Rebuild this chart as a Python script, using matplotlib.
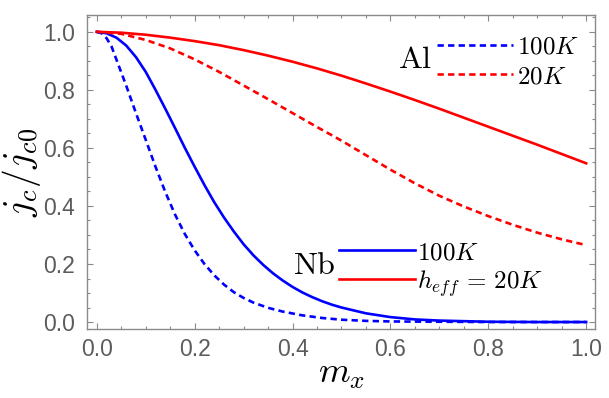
import matplotlib
matplotlib.use("Agg")
import matplotlib.pyplot as plt
from matplotlib.ticker import MultipleLocator
from matplotlib.lines import Line2D

plt.rcParams['mathtext.fontset'] = 'cm'

# Nb, 100K (solid blue)
m_nb100 = [0, 0.02, 0.04, 0.06, 0.08, 0.10, 0.12, 0.14, 0.16, 0.18, 0.20, 0.22, 0.24, 0.26, 0.28,
           0.30, 0.32, 0.34, 0.36, 0.38, 0.40, 0.42, 0.44, 0.46, 0.48, 0.50, 0.55, 0.60, 0.65, 0.70,
           0.80, 0.90, 1.00]
v_nb100 = [1.0, 0.995, 0.98, 0.953, 0.913, 0.862, 0.80, 0.735, 0.668, 0.60, 0.535, 0.472, 0.413, 0.36, 0.312,
           0.268, 0.23, 0.197, 0.168, 0.143, 0.121, 0.102, 0.086, 0.072, 0.06, 0.05, 0.03, 0.017, 0.009, 0.005,
           0.001, 0.0, 0.0]

# Nb, h_eff = 20K (solid red)
m_nb20 = [0, 0.05, 0.10, 0.15, 0.20, 0.25, 0.30, 0.35, 0.40, 0.45, 0.50, 0.55, 0.60, 0.65, 0.70,
          0.75, 0.80, 0.85, 0.90, 0.95, 1.00]
v_nb20 = [1.0, 0.997, 0.99, 0.98, 0.968, 0.954, 0.937, 0.918, 0.897, 0.874, 0.849, 0.822, 0.794, 0.765, 0.735,
          0.704, 0.673, 0.642, 0.611, 0.579, 0.547]

# Al, 100K (dashed blue)
m_al100 = [0, 0.01, 0.02, 0.03, 0.04, 0.06, 0.08, 0.10, 0.12, 0.14, 0.16, 0.18, 0.20, 0.22, 0.24,
           0.26, 0.28, 0.30, 0.32, 0.35, 0.38, 0.42, 0.46, 0.50, 0.55, 0.60, 0.70, 0.80, 1.00]
v_al100 = [1.0, 0.995, 0.978, 0.95, 0.905, 0.815, 0.72, 0.628, 0.535, 0.448, 0.37, 0.303, 0.247, 0.20, 0.161,
           0.129, 0.103, 0.083, 0.067, 0.049, 0.036, 0.023, 0.014, 0.008, 0.004, 0.002, 0.001, 0.0, 0.0]

# Al, 20K (dashed red)
m_al20 = [0, 0.05, 0.10, 0.15, 0.20, 0.25, 0.30, 0.35, 0.40, 0.45, 0.50, 0.55, 0.60, 0.65,
          0.70, 0.75, 0.80, 0.85, 0.90, 0.95, 1.00]
v_al20 = [1.0, 0.993, 0.972, 0.943, 0.905, 0.862, 0.815, 0.768, 0.72, 0.672, 0.625, 0.575, 0.525, 0.478,
          0.435, 0.398, 0.365, 0.335, 0.308, 0.285, 0.265]

xticks = [0.0, 0.2, 0.4, 0.6, 0.8, 1.0]
yticks = [0.0, 0.2, 0.4, 0.6, 0.8, 1.0]

fig = plt.figure(figsize=(6.09, 3.98), dpi=100)
ax = fig.add_axes([87/609, 1-329/398, (595-87)/609, (329-15)/398])

lw = 1.9
dash = (2.4, 1.6)
ax.plot(m_nb100, v_nb100, color=(0, 0, 1), lw=lw)
ax.plot(m_nb20, v_nb20, color=(1, 0, 0), lw=lw)
ax.plot(m_al100, v_al100, color=(0, 0, 1), lw=lw, dashes=dash)
ax.plot(m_al20, v_al20, color=(1, 0, 0), lw=lw, dashes=dash)

ax.set_xlim(-0.02, 1.018)
ax.set_ylim(-0.024, 1.058)
ax.set_xticks(xticks)
ax.set_yticks(yticks)
ax.set_xticklabels([f"{t:.1f}" for t in xticks])
ax.set_yticklabels([f"{t:.1f}" for t in yticks])
ax.xaxis.set_minor_locator(MultipleLocator(0.05))
ax.yaxis.set_minor_locator(MultipleLocator(0.05))

grey = '#8a8a8a'
for sp in ax.spines.values():
    sp.set_color(grey)
    sp.set_linewidth(1.0)
ax.tick_params(which='both', direction='in', top=True, right=True, color=grey, width=0.8)
ax.tick_params(which='major', length=4.5, labelsize=16.5, labelcolor='#5c5c5c')
ax.tick_params(axis='x', which='major', pad=6.5)
ax.tick_params(axis='y', which='major', pad=8.5)
ax.tick_params(which='minor', length=2.5)
for lab in ax.get_xticklabels() + ax.get_yticklabels():
    lab.set_family('Liberation Sans')

ax.set_xlabel(r'$m_x$', fontsize=26, labelpad=-3)
ax.set_ylabel(r'$j_c/j_{c0}$', fontsize=27, labelpad=0)


def tr(x, y):
    return (x/609, 1 - y/398)


fig.text(*tr(398, 59), r'$\mathrm{Al}$', fontsize=23, va='center', ha='left')
fig.text(*tr(293, 266), r'$\mathrm{Nb}$', fontsize=23, va='center', ha='left')


def seg(x0, x1, y, color, dashed):
    kw = dict(dashes=dash) if dashed else {}
    l = Line2D([x0/609, x1/609], [1-y/398, 1-y/398], transform=fig.transFigure,
               color=color, lw=lw, **kw)
    fig.add_artist(l)


seg(437, 513, 45, (0, 0, 1), True)
seg(437, 513, 74, (1, 0, 0), True)
seg(339, 415, 250, (0, 0, 1), False)
seg(339, 415, 279, (1, 0, 0), False)

fig.text(*tr(517, 47), r'$100K$', fontsize=18, va='center', ha='left')
fig.text(*tr(517, 76), r'$20K$', fontsize=18, va='center', ha='left')
fig.text(*tr(417, 253), r'$100K$', fontsize=18, va='center', ha='left')
fig.text(*tr(417, 284), r'$h_{eff}\,=\,20K$', fontsize=18, va='center', ha='left')

fig.savefig('out.png', dpi=100)
